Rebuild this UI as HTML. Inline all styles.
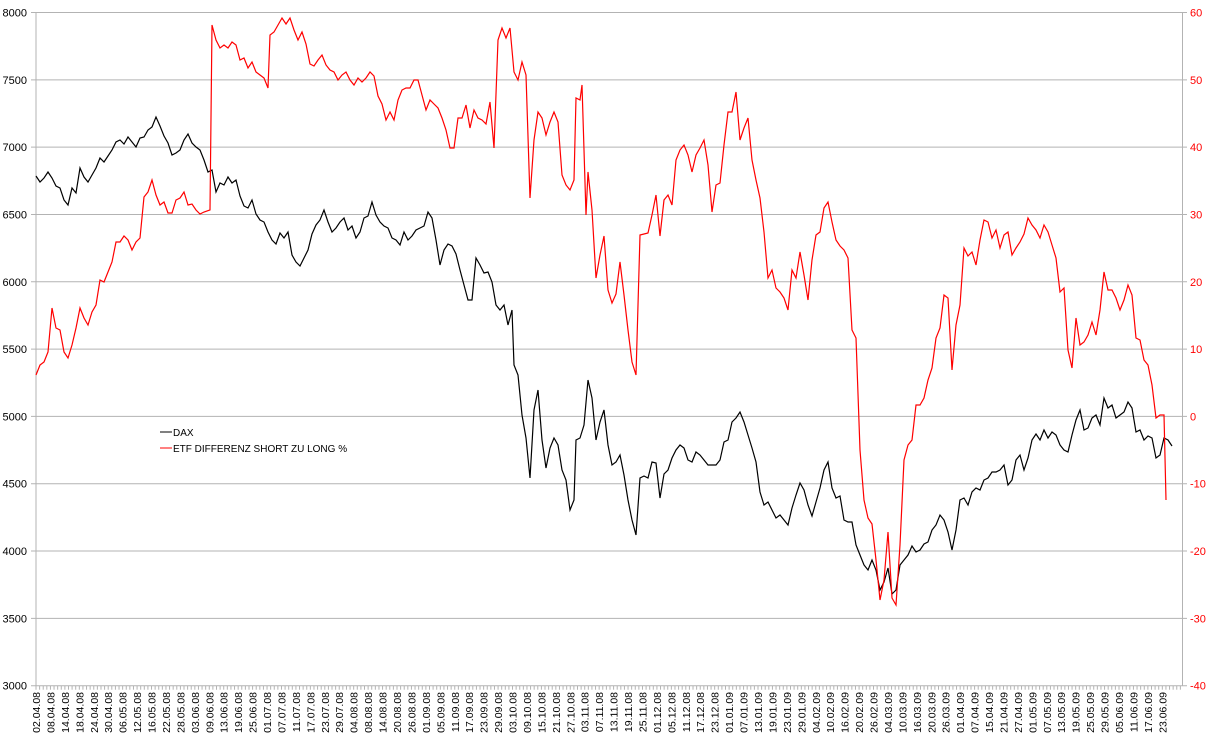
<!DOCTYPE html>
<html><head><meta charset="utf-8"><style>
html,body{margin:0;padding:0;background:#fff}
svg{display:block;font-family:"Liberation Sans",sans-serif;font-size:11px}
</style></head><body>
<svg id="s" width="1212" height="745" xmlns="http://www.w3.org/2000/svg">
<g id="grid"></g>
<polyline fill="none" stroke="#000" stroke-width="1.2" points="36,176 40,182 44,178 48,172 52,178 56,186 60,188 64,200 68,205 72,188 76,193 80,168 84,177 88,182 92,175 96,168 100,158 104,162 108,156 112,150 116,142 120,140 124,144 128,137 132,142 136,147 140,138 144,137 148,130 152,127 156,117 160,126 164,136 168,143 172,155 176,153 180,150 184,140 188,134 192,143 196,147 200,150 204,160 208,172 212,170 216,192 220,183 224,185 228,177 232,183 236,180 240,196 244,206 248,208 252,200 256,214 260,220 264,222 268,232 272,240 276,244 280,233 284,238 288,232 292,255 296,262 300,266 304,258 308,250 312,234 316,225 320,220 324,210 328,222 332,232 336,228 340,222 344,218 348,230 352,226 356,238 360,232 364,218 368,216 372,202 376,215 380,222 384,226 388,228 392,238 396,240 400,245 404,232 408,240 412,236 416,230 420,228 424,226 428,212 432,218 436,240 440,265 444,250 448,244 452,246 456,254 460,270 464,285 468,300 472,300 476,258 480,265 484,273 488,272 492,282 496,305 500,310 504,305 508,325 512,310 514,365 518,375 522,415 526,438 530,478 534,410 538,390 542,440 546,468 550,448 554,438 558,445 562,470 566,480 570,510 574,500 576,440 580,438 584,425 588,380 592,398 596,440 600,422 604,410 608,445 612,465 616,462 620,455 624,475 628,500 632,520 636,535 640,478 644,476 648,478 652,462 656,463 660,498 664,474 668,470 672,458 676,450 680,445 684,448 688,460 692,462 696,452 700,455 704,460 708,465 712,465 716,465 720,460 724,442 728,440 732,422 736,418 740,412 744,422 748,435 752,448 756,462 760,492 764,505 768,502 772,510 776,518 780,515 784,520 788,525 792,508 796,495 800,483 804,490 808,505 812,516 816,502 820,488 824,470 828,462 832,488 836,498 840,496 844,520 848,522 852,522 856,545 860,555 864,565 868,570 872,560 876,570 880,590 884,582 888,568 892,594 896,590 900,565 904,560 908,555 912,546 916,552 920,550 924,544 928,542 932,530 936,525 940,515 944,520 948,532 952,550 956,530 960,500 964,498 968,505 972,492 976,488 980,490 984,480 988,478 992,472 996,472 1000,470 1004,465 1008,485 1012,480 1016,460 1020,455 1024,470 1028,458 1032,440 1036,434 1040,440 1044,430 1048,438 1052,432 1056,435 1060,445 1064,450 1068,452 1072,435 1076,420 1080,410 1084,430 1088,428 1092,418 1096,415 1100,425 1104,398 1108,408 1112,405 1116,418 1120,415 1124,412 1128,402 1132,408 1136,432 1140,430 1144,440 1148,436 1152,438 1156,458 1160,455 1164,438 1168,440 1172,446"/>
<polyline fill="none" stroke="#f00" stroke-width="1.2" points="36,375 40,365 44,362 48,352 52,308 56,328 60,330 64,352 68,358 72,345 76,328 80,308 84,318 88,325 92,312 96,305 100,280 104,282 108,272 112,262 116,242 120,242 124,236 128,240 132,250 136,242 140,238 144,197 148,192 152,180 156,195 160,205 164,202 168,213 172,213 176,200 180,198 184,192 188,205 192,204 196,210 200,214 204,212 210,210 212,25 216,40 220,48 224,45 228,48 232,42 236,45 240,60 244,58 248,68 252,62 256,72 260,75 264,78 268,88 270,35 274,32 278,25 282,18 286,24 290,18 294,30 298,40 302,32 306,44 310,64 314,66 318,60 322,55 326,65 330,70 334,72 338,80 342,75 346,72 350,80 354,85 358,78 362,82 366,78 370,72 374,76 378,96 382,104 386,120 390,112 394,120 398,100 402,90 406,88 410,88 414,80 418,80 422,95 426,110 430,100 434,104 438,108 442,118 446,130 450,148 454,148 458,118 462,118 466,105 470,128 474,110 478,118 482,120 486,124 490,102 494,148 498,40 502,28 506,38 510,28 514,72 518,80 522,62 526,75 530,198 534,140 538,112 542,118 546,135 550,122 554,112 558,122 562,175 566,185 570,190 574,180 576,98 580,100 582,85 586,215 588,172 592,210 596,278 600,255 604,236 608,290 612,303 616,294 620,262 624,295 628,330 632,362 636,375 640,235 644,234 648,233 652,215 656,195 660,236 664,200 668,195 672,205 676,160 680,150 684,145 688,155 692,172 696,155 700,148 704,140 708,165 712,212 716,185 720,183 724,145 728,112 732,112 736,92 740,140 744,128 748,118 752,160 756,180 760,198 764,232 768,278 772,270 776,288 780,292 784,298 788,310 792,270 796,278 800,252 804,275 808,300 812,260 816,235 820,232 824,208 828,202 832,222 836,240 840,246 844,250 848,258 852,330 856,338 860,450 864,500 868,518 872,524 876,560 880,600 884,580 888,532 892,598 896,605 900,545 904,460 908,445 912,440 916,405 920,405 924,398 928,380 932,368 936,338 940,328 944,295 948,298 952,370 956,325 960,305 964,248 968,256 972,252 976,265 980,240 984,220 988,222 992,238 996,230 1000,248 1004,235 1008,232 1012,255 1016,248 1020,242 1024,234 1028,218 1032,225 1036,230 1040,238 1044,225 1048,232 1052,245 1056,258 1060,292 1064,288 1068,350 1072,368 1076,318 1080,345 1084,342 1088,335 1092,322 1096,335 1100,310 1104,272 1108,290 1112,290 1116,298 1120,310 1124,300 1128,285 1132,295 1136,338 1140,340 1144,360 1148,365 1152,385 1156,418 1160,415 1164,415 1166,500"/>
<line x1="160" y1="432" x2="172" y2="432" stroke="#000"/>
<line x1="160" y1="448" x2="172" y2="448" stroke="#f00"/>
<text x="173" y="436" font-size="10">DAX</text>
<text x="173" y="452" font-size="10">ETF DIFFERENZ SHORT ZU LONG %</text>
</svg>
<script>
(function(){
var g=document.getElementById('grid'),h='';
var T=12.5,B=685.7,st=(B-T)/10;
for(var i=0;i<=10;i++){var y=T+i*st;
h+='<line x1="31" x2="1187" y1="'+y+'" y2="'+y+'" stroke="#b3b3b3"/>';
h+='<text x="27" y="'+(y+4)+'" text-anchor="end">'+(8000-i*500)+'</text>';
h+='<text x="1190" y="'+(y+4)+'" fill="#f00">'+(60-i*10)+'</text>';}
h+='<line x1="36" x2="36" y1="'+T+'" y2="'+B+'" stroke="#b3b3b3"/>';
h+='<line x1="1182.5" x2="1182.5" y1="'+T+'" y2="'+B+'" stroke="#b3b3b3"/>';
for(var x=36;x<=1182;x+=3.61)h+='<line x1="'+x+'" x2="'+x+'" y1="'+B+'" y2="'+(B+4)+'" stroke="#b3b3b3"/>';
var L="02.04.08 08.04.08 14.04.08 18.04.08 24.04.08 30.04.08 06.05.08 12.05.08 16.05.08 22.05.08 28.05.08 03.06.08 09.06.08 13.06.08 19.06.08 25.06.08 01.07.08 07.07.08 11.07.08 17.07.08 23.07.08 29.07.08 04.08.08 08.08.08 14.08.08 20.08.08 26.08.08 01.09.08 05.09.08 11.09.08 17.09.08 23.09.08 29.09.08 03.10.08 09.10.08 15.10.08 21.10.08 27.10.08 03.11.08 07.11.08 13.11.08 19.11.08 25.11.08 01.12.08 05.12.08 11.12.08 17.12.08 23.12.08 01.01.09 07.01.09 13.01.09 19.01.09 23.01.09 29.01.09 04.02.09 10.02.09 16.02.09 20.02.09 26.02.09 04.03.09 10.03.09 16.03.09 20.03.09 26.03.09 01.04.09 07.04.09 15.04.09 21.04.09 27.04.09 01.05.09 07.05.09 13.05.09 19.05.09 25.05.09 29.05.09 05.06.09 11.06.09 17.06.09 23.06.09".split(' ');
for(var j=0;j<L.length;j++){var x=36+j*14.44+4;
h+='<text transform="translate('+x+',692) rotate(-90)" text-anchor="end" font-size="10.5">'+L[j]+'</text>';}
g.innerHTML=h;
})();
</script>
</body></html>
